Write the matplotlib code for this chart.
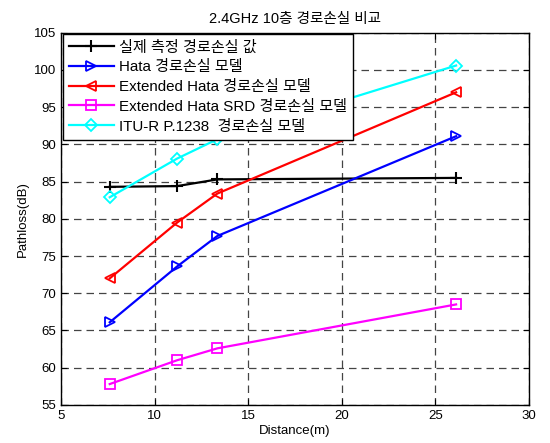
import matplotlib
matplotlib.use('Agg')
import matplotlib.pyplot as plt

plt.rcParams['font.family'] = ['Liberation Sans', 'Noto Sans CJK KR', 'DejaVu Sans']
plt.rcParams['font.size'] = 9.5

distance = [7.6, 11.2, 13.35, 26.1]
measured = [84.3, 84.4, 85.3, 85.5]
hata = [66.1, 73.6, 77.7, 91.1]
ext_hata = [72.0, 79.5, 83.4, 97.0]
ext_hata_srd = [57.8, 61.0, 62.6, 68.5]
itu_r = [82.9, 88.1, 90.7, 100.6]

labels = ['실제 측정 경로손실 값',
          'Hata 경로손실 모델',
          'Extended Hata 경로손실 모델',
          'Extended Hata SRD 경로손실 모델',
          'ITU-R P.1238  경로손실 모델']

fig = plt.figure(figsize=(5.5, 4.43), dpi=100)
ax = fig.add_axes([0.111, 0.086, 0.851, 0.84])

style = dict(linewidth=1.6, markersize=7, markerfacecolor='none', markeredgewidth=1.3)
ax.plot(distance, measured, color='k', marker='+', markersize=9, linewidth=1.6, markeredgewidth=1.5, label=labels[0])
ax.plot(distance, hata, color='#0000ff', marker='>', label=labels[1], **style)
ax.plot(distance, ext_hata, color='#ff0000', marker='<', label=labels[2], **style)
ax.plot(distance, ext_hata_srd, color='#ff00ff', marker='s', label=labels[3], **style)
ax.plot(distance, itu_r, color='#00ffff', marker='D', label=labels[4], **{**style, 'markersize': 6})

ax.set_xlim(5, 30)
ax.set_ylim(55, 105)
ax.set_xticks(range(5, 31, 5))
ax.set_yticks(range(55, 106, 5))
ax.grid(True, color='#444444', linestyle=(0, (6, 4)), linewidth=0.9)
ax.tick_params(direction='in', top=True, right=True, length=4)
for s in ax.spines.values():
    s.set_linewidth(1.0)

ax.set_xlabel('Distance(m)', labelpad=2)
ax.set_ylabel('Pathloss(dB)', labelpad=4)
ax.set_title('2.4GHz 10층 경로손실 비교', fontsize=10.5, pad=7)

leg = ax.legend(loc='upper left', bbox_to_anchor=(0.0, 1.0), borderaxespad=0.1,
                fancybox=False, framealpha=1, edgecolor='k', handlelength=3.0,
                fontsize=10.9, labelspacing=0.38, borderpad=0.4, handletextpad=0.35)
leg.get_frame().set_linewidth(1.0)

fig.savefig('out.png', dpi=100)
